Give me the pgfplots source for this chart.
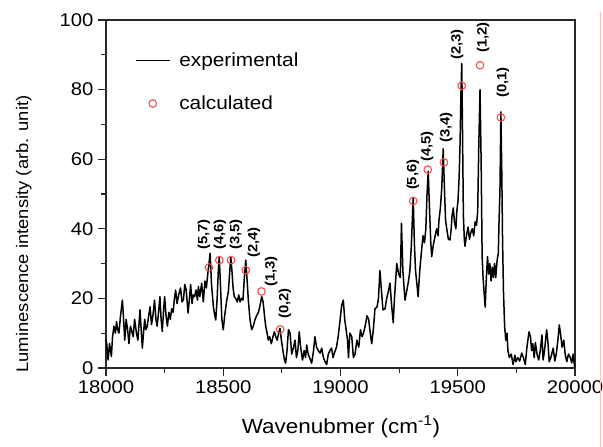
\documentclass[border=0pt]{standalone}
\usepackage{fontspec}
\setmainfont[FakeStretch=1.1]{Liberation Sans}
\usepackage{pgfplots}
\pgfplotsset{compat=1.18}
\definecolor{calc}{RGB}{240,80,80}
\definecolor{axgray}{RGB}{40,40,40}
\pgfplotsset{
  explegend/.style={legend image code/.code={\draw[##1, line width=1bp] (0bp,0bp) -- (34bp,0bp);}},
  calclegend/.style={legend image code/.code={\draw[mark repeat=2,mark phase=2,##1] plot coordinates {(0bp,0bp) (17bp,0bp) (34bp,0bp)};}},
}
\begin{document}
\begin{tikzpicture}
\useasboundingbox (-106bp,-79bp) rectangle (497bp,368bp);
\begin{axis}[
  scale only axis,
  width=469bp, height=348bp,
  xmin=18000, xmax=20000, ymin=0, ymax=100,
  xtick={18000,18500,19000,19500,20000},
  ytick={0,20,40,60,80,100},
  minor x tick num=1, minor y tick num=1,
  scaled x ticks=false,
  xticklabel style={/pgf/number format/fixed, /pgf/number format/1000 sep={}},
  tick align=outside,
  xtick pos=bottom, ytick pos=left,
  major tick length=8bp, minor tick length=5bp,
  axis line style={axgray, line width=1.2bp},
  every tick/.style={axgray, line width=1.1bp},
  /pgf/number format/assume math mode=true,
  /pgf/number format/1000 sep={},
  tick label style={font=\fontsize{18.5}{20}\selectfont},
  xticklabel style={yshift=-1bp},
  yticklabel style={xshift=-1bp},
  xlabel={Wavenubmer (cm\textsuperscript{-1})},
  ylabel={Luminescence intensity (arb. unit)},
  xlabel style={font=\fontsize{20.5}{22}\selectfont, at={(axis description cs:0.501,-0.168)}, anchor=center},
  ylabel style={font=\fontsize{16.8}{20}\selectfont, at={(axis description cs:-0.175,0.385)}, anchor=center},
  legend style={draw=none, fill=none, at={(axis description cs:0.062,0.915)}, anchor=north west,
    font=\fontsize{19}{21}\selectfont, row sep=22bp, column sep=6bp, inner sep=0pt,
    nodes={inner sep=3pt}},
  legend cell align=left,
  clip=false,
]
\addplot[black, line width=1.5bp, line join=round, explegend] coordinates {
(18000,8) (18003,7) (18009,2.3) (18015,7) (18023,3.3) (18028,9) (18034,12) (18040,10) (18045,13.3) (18050,11)
(18055,10) (18062,15) (18070,19.5) (18075,14) (18080,8) (18086,14) (18092,11) (18098,7) (18104,12) (18110,10.5)
(18116,9) (18122,14) (18130,10) (18136,8) (18145,16.7) (18150,11) (18155,5.7) (18160,10) (18165,14) (18170,11)
(18176,12) (18182,15) (18188,17.6) (18194,12.5) (18200,15) (18207,19.5) (18213,14) (18218,12) (18224,16) (18230,20.5)
(18235,14) (18240,10.5) (18245,16) (18250,20.5) (18256,15) (18262,12) (18268,16) (18274,14) (18280,17) (18286,16)
(18292,20) (18297,22.4) (18303,18.5) (18310,21) (18318,23) (18324,19) (18330,19.5) (18336,24) (18342,22.4) (18350,15.8)
(18356,20) (18361,24) (18367,18.5) (18372,21) (18378,20.5) (18384,22.4) (18390,19.5) (18394,23.4) (18400,20.5) (18408,24.4)
(18415,19) (18422,25) (18428,23) (18434,27) (18439,30) (18444,33) (18450,24) (18458,17.6) (18464,15) (18468,13.8)
(18474,20) (18479,28) (18483,32) (18488,24) (18494,14) (18500,11) (18506,15) (18515,19.5) (18522,22) (18528,28)
(18532,32) (18537,28) (18542,23) (18547,20.5) (18553,20) (18560,19) (18566,21) (18572,19) (18578,20) (18584,19.5)
(18590,26) (18596,31) (18601,26) (18607,19.5) (18614,14) (18621,11) (18628,12) (18635,13.8) (18642,15) (18650,16)
(18657,18) (18664,20.5) (18670,19) (18676,15) (18681,12) (18687,10) (18692,8) (18698,9) (18705,7) (18712,9)
(18718,10.4) (18724,9) (18730,8) (18736,10) (18742,11.4) (18748,8) (18756,4.3) (18762,2) (18766,1.4) (18772,5)
(18778,11) (18785,10) (18792,4) (18800,6) (18806,8) (18812,3) (18818,5) (18824,10.4) (18830,6) (18838,2.3)
(18845,5) (18851,3) (18856,6.6) (18862,4) (18868,3) (18877,1.4) (18885,5) (18891,9) (18898,6) (18905,5)
(18913,4.3) (18920,5.7) (18927,3) (18933,2) (18941,1) (18948,4) (18955,5) (18962,5.7) (18968,3) (18975,4.5)
(18983,6) (18990,9) (18997,13) (19005,18) (19012,19.5) (19018,14) (19024,11) (19030,8) (19034,3) (19040,10)
(19048,9) (19055,3) (19062,4) (19070,8) (19078,6) (19085,11) (19092,9) (19098,10) (19105,12) (19113,15)
(19120,14) (19127,10) (19133,7) (19140,11) (19147,17) (19156,17.6) (19162,20) (19168,28) (19175,22) (19181,16.7)
(19190,17) (19197,20) (19204,22) (19211,24.4) (19218,18) (19225,13) (19230,20) (19240,30) (19248,27) (19255,26)
(19260,41.6) (19266,28) (19275,19.5) (19282,22) (19290,25) (19296,28) (19302,35) (19306,42) (19310,49) (19315,36)
(19320,28) (19326,24) (19331,20.5) (19338,28) (19346,34) (19352,38) (19358,36) (19364,40) (19369,50) (19374,56.5)
(19380,45) (19385,36) (19389,32) (19395,35) (19403,37.8) (19410,40) (19416,38) (19420,42.5) (19426,46) (19432,52)
(19438,63) (19443,52) (19448,42.5) (19453,40) (19460,37) (19467,36.8) (19472,40) (19476,44) (19481,46) (19486,42)
(19492,40) (19496,45) (19501,48) (19506,55) (19510,65) (19514,80) (19517,87.5) (19520,70) (19524,44) (19528,37)
(19531,35) (19537,38) (19544,40.5) (19550,37) (19556,39) (19562,40) (19568,38) (19574,42) (19580,41) (19585,45)
(19590,65) (19595,80) (19600,58) (19604,32) (19608,26) (19612,22) (19617,17.5) (19622,26) (19627,32) (19632,27)
(19637,30) (19642,25) (19647,29) (19652,26) (19657,30) (19662,26) (19668,31) (19673,33) (19676,42) (19680,51)
(19684,73.6) (19688,55) (19691,37) (19695,22) (19700,11.8) (19705,8) (19710,10) (19714,5) (19720,3) (19728,4)
(19736,1) (19744,3.7) (19748,1.8) (19756,3) (19764,2) (19773,4.3) (19780,3) (19788,1) (19795,6) (19804,10.4)
(19810,9) (19815,5) (19820,7) (19826,3) (19831,7.3) (19838,4) (19845,2.3) (19852,5) (19859,9.5) (19864,2.3)
(19870,5) (19879,11) (19885,7) (19890,1.8) (19897,3) (19907,5.7) (19914,2) (19920,4) (19927,8) (19933,12.4)
(19938,10) (19945,6) (19952,8) (19958,4) (19965,1.8) (19972,4) (19980,3) (19986,1.5) (19992,4) (19998,0.5) (20000,1)
};
\addlegendentry{experimental}
\addplot[only marks, mark=o, mark size=3.8bp, calc, mark options={line width=1.1bp}, calclegend] coordinates {
(18439,28.9) (18483,31.0) (18533,31.0) (18596,28.1) (18663,22.0) (18743,11.1)
(19310,48.0) (19372,57.0) (19441,59.1) (19517,81.1) (19595,87.0) (19684,72.0)
};
\addlegendentry{calculated}
\begin{scope}[every node/.style={rotate=90, anchor=west, inner sep=0pt, font=\bfseries\fontsize{13.5}{14}\selectfont}]
\node at (axis cs:18418,33.9) {(5,7)};
\node at (axis cs:18486,33.9) {(4,6)};
\node at (axis cs:18554,33.9) {(3,5)};
\node at (axis cs:18631,31.6) {(2,4)};
\node at (axis cs:18704,23.3) {(1,3)};
\node at (axis cs:18763,14.1) {(0,2)};
\node at (axis cs:19309,51.1) {(5,6)};
\node at (axis cs:19369,59.2) {(4,5)};
\node at (axis cs:19450,64.7) {(3,4)};
\node at (axis cs:19497,88.5) {(2,3)};
\node at (axis cs:19608,90.5) {(1,2)};
\node at (axis cs:19693,77.6) {(0,1)};
\end{scope}
\end{axis}
\draw[red!25, line width=0.8bp] (494bp,-79bp) -- (494bp,356bp);
\end{tikzpicture}
\end{document}
